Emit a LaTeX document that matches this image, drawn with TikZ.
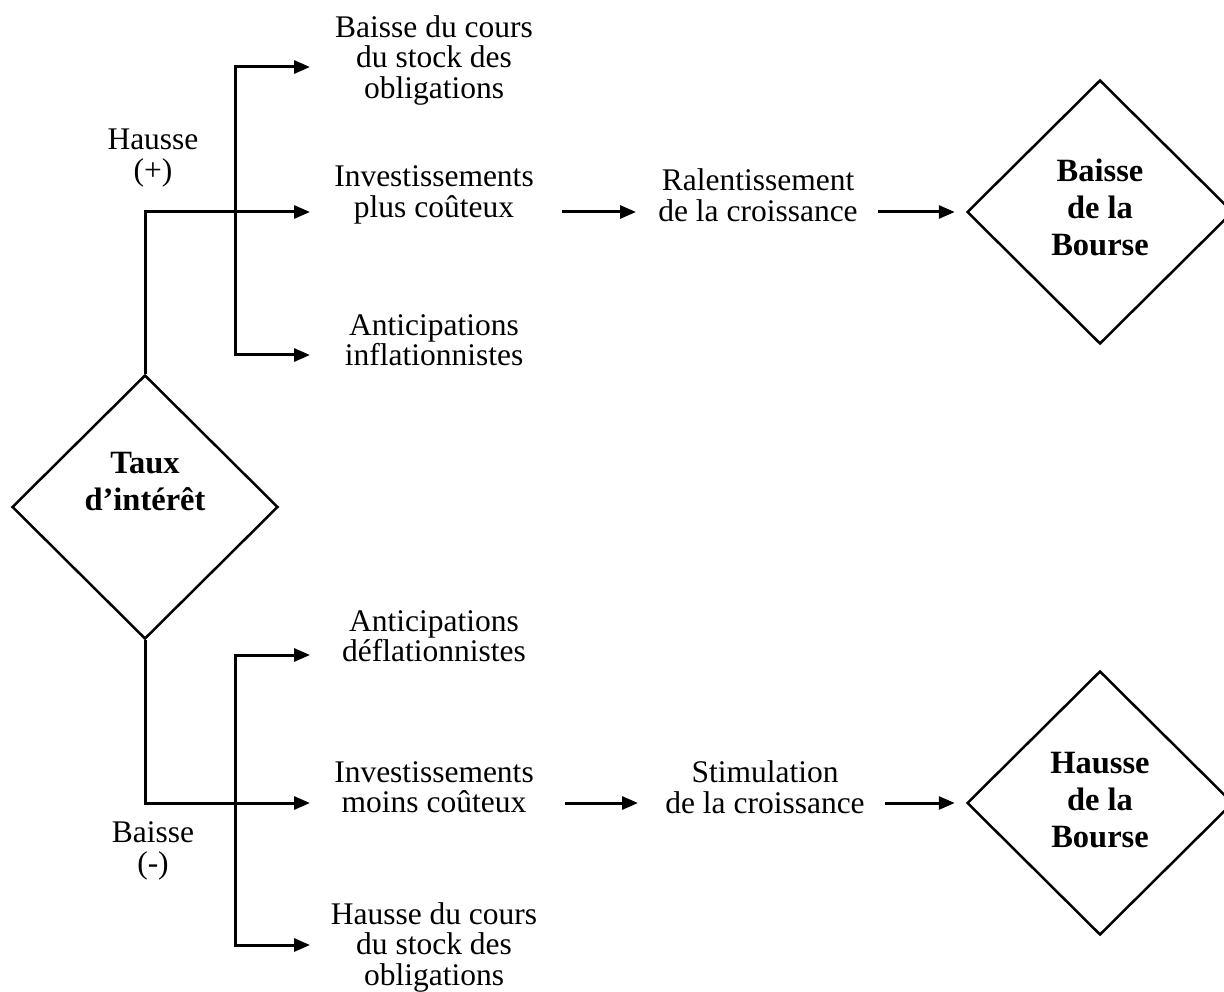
\documentclass[tikz,border=0pt]{standalone}
\usepackage{fontspec}
\setmainfont{Liberation Serif}
\usetikzlibrary{shapes.geometric,arrows.meta}
\begin{document}
\begin{tikzpicture}[x=1pt,y=-1pt,
 txt/.style={align=center,font=\fontsize{31.5}{30.5}\selectfont,inner sep=0pt},
 btxt/.style={align=center,font=\fontsize{32.5}{37}\selectfont\bfseries,inner sep=0pt},
 dia/.style={diamond,draw,line width=2.5pt,minimum width=266pt,minimum height=264pt,inner sep=0pt},
 ln/.style={line width=3pt},
 arr/.style={ln,-{Triangle[length=16pt,width=13pt]}},
 darr/.style={ln,{Triangle[length=16pt,width=13pt]}-{Triangle[length=16pt,width=13pt]}}]
\useasboundingbox (0,0) rectangle (1224,992);
% diamonds
\node[dia] (tx) at (145,507) {};
\node[btxt] (txl) at (145,482) {Taux\\d’intérêt};
\node[dia] (bb) at (1100,212) {};
\node[btxt] (bbl) at (1100,207) {Baisse\\de la\\Bourse};
\node[dia] (hb) at (1100,803) {};
\node[btxt] (hbl) at (1100,800) {Hausse\\de la\\Bourse};
% texts
\node[txt] (o1) at (434,60) {Baisse du cours\\du stock des\\obligations};
\node[txt] (i1) at (434,195) {Investissements\\plus coûteux};
\node[txt] (an1) at (434,340) {Anticipations\\inflationnistes};
\node[txt] (r1) at (758,195) {Ralentissement\\de la croissance};
\node[txt] (h) at (153,158) {Hausse\\(+)};
\node[txt] (an2) at (434,636) {Anticipations\\déflationnistes};
\node[txt] (i2) at (434,787) {Investissements\\moins coûteux};
\node[txt] (s2) at (765,787) {Stimulation\\de la croissance};
\node[txt] (b) at (153,851) {Baisse\\(-)};
\node[txt] (o2) at (434,947) {Hausse du cours\\du stock des\\obligations};
% coordinates
\coordinate (p1) at (310,212);
\coordinate (q0) at (310,67);
\coordinate (k2) at (235,355);
\coordinate (q2) at (310,355);
\coordinate (p2) at (310,803);
\coordinate (q3) at (310,655);
\coordinate (k5) at (235,945);
\coordinate (q5) at (310,945);
\coordinate (m1a) at (562,212);
\coordinate (m1b) at (636,212);
\coordinate (m2a) at (878,212);
\coordinate (m3a) at (565,803);
\coordinate (m3b) at (638,803);
\coordinate (m4a) at (885,803);
% connectors
\draw[arr] (tx.north) |- (p1);
\draw[darr] (q0) -| (k2) -- (q2);
\draw[arr] (tx.south) |- (p2);
\draw[darr] (q3) -| (k5) -- (q5);
\draw[arr] (m1a) -- (m1b);
\draw[arr] (m2a) -- ([xshift=-11pt]bb.west);
\draw[arr] (m3a) -- (m3b);
\draw[arr] (m4a) -- ([xshift=-11pt]hb.west);
\end{tikzpicture}
\end{document}
